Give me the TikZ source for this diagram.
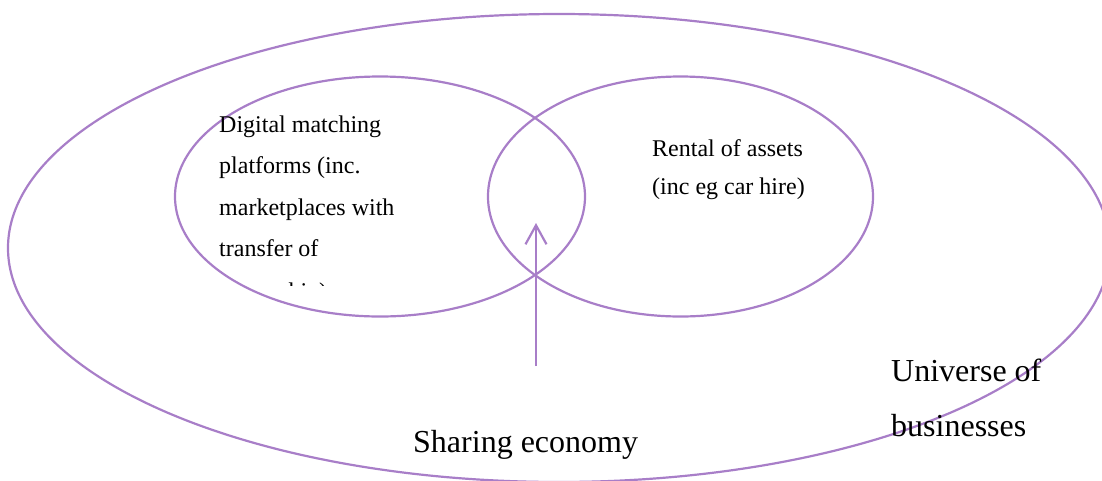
\documentclass[tikz,border=0pt]{standalone}
\usepackage{fontspec}
\setmainfont{Liberation Serif}
\usetikzlibrary{arrows.meta}
\definecolor{lav}{RGB}{168,126,200}
\begin{document}
\begin{tikzpicture}[x=1pt,y=-1pt,
  ring/.style={draw=lav,line width=2.2pt},
  small/.style={font=\fontsize{24}{29}\selectfont,inner sep=0pt,anchor=base west},
  big/.style={font=\fontsize{32}{38}\selectfont,inner sep=0pt,anchor=base west},
  pointer/.style={draw=lav,line width=2.2pt,-{Straight Barb[length=19pt,width=21pt]}}]
\useasboundingbox (0,0) rectangle (1102,480);
\begin{scope}
\clip (0,0) rectangle (1102,480);
\draw[ring] (559,248) ellipse [x radius=551pt, y radius=234pt];
\draw[ring] (380,196.5) ellipse [x radius=205pt, y radius=120pt];
\draw[ring] (680.5,196.5) ellipse [x radius=192.5pt, y radius=120pt];
\end{scope}
\node[small] (d1) at (219,132) {Digital matching};
\node[small] (d2) at (219,173.5) {platforms (inc.};
\node[small] (d3) at (219,215) {marketplaces with};
\node[small] (d4) at (219,256.5) {transfer of};
\begin{scope}
\clip (0,0) rectangle (1102,285);
\node[small] (d5) at (219,299) {ownership)};
\end{scope}
\node[small] (r1) at (652,156) {Rental of assets};
\node[small] (r2) at (652,194) {(inc eg car hire)};
\node[big] (u1) at (891,381) {Universe of};
\node[big] (u2) at (891,436) {businesses};
\node[big] (se) at (413,452) {Sharing economy};
\coordinate (atail) at (536,366);
\coordinate (atip) at (536,223);
\draw[pointer] (atail) -- (atip);
\end{tikzpicture}
\end{document}
